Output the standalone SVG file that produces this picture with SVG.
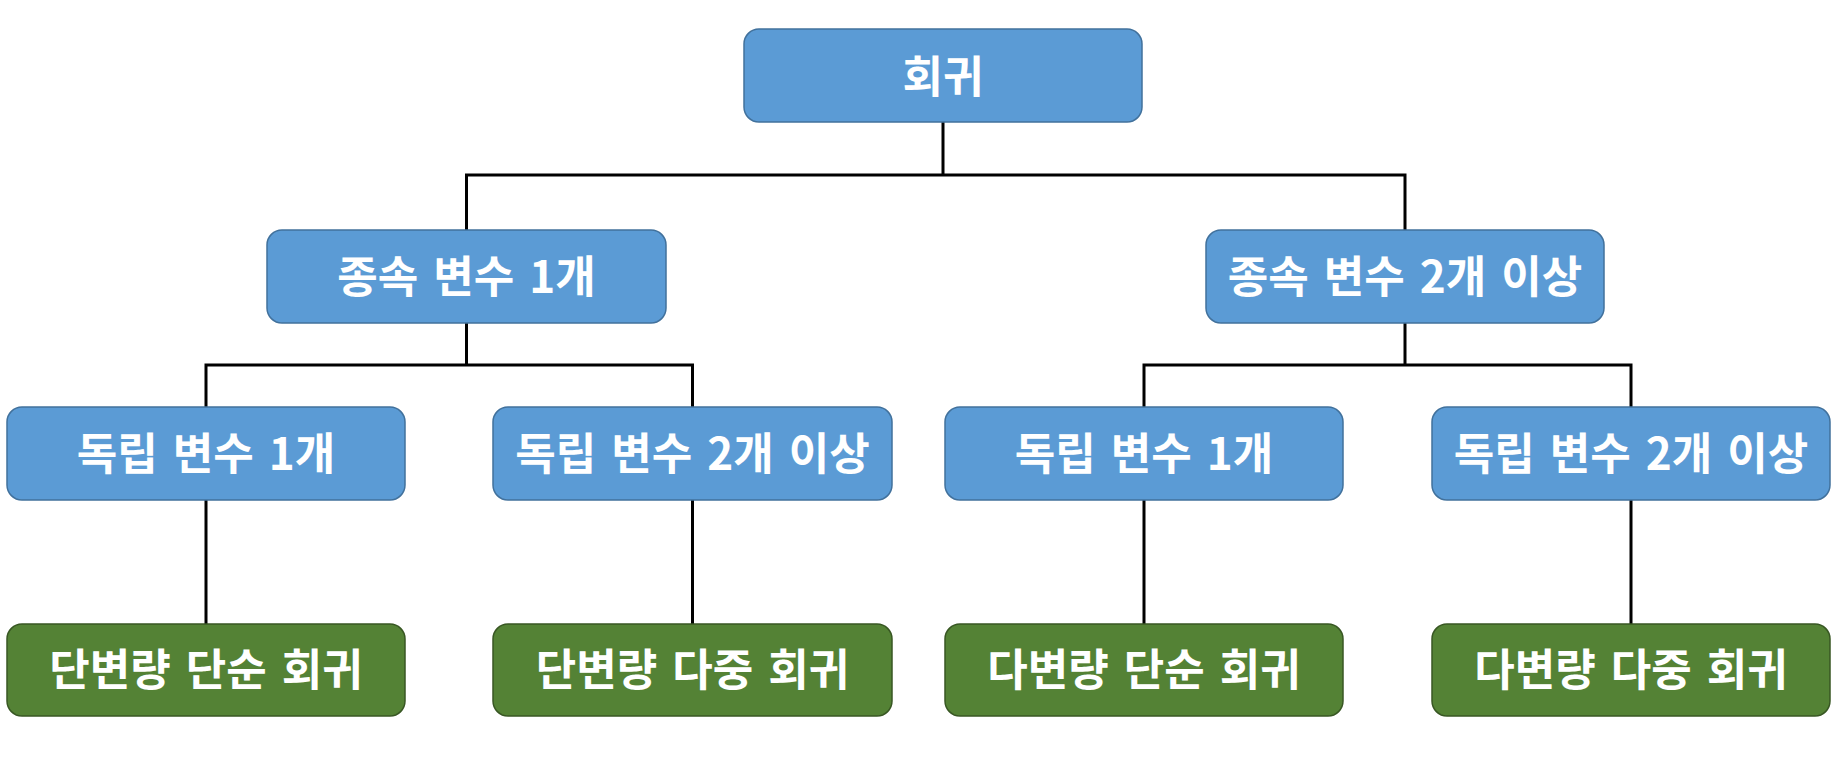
<svg xmlns="http://www.w3.org/2000/svg" width="1840" height="761" viewBox="0 0 1840 761">
<style>
.blue{fill:#5B9BD5;stroke:#41719C;stroke-width:1.5}
.green{fill:#548235;stroke:#385723;stroke-width:1.5}
.t{fill:#FFFFFF;font-family:"Noto Sans CJK KR","Noto Sans",sans-serif;font-weight:bold;font-size:44px;word-spacing:5px;text-anchor:middle}
.c{fill:none;stroke:#000000;stroke-width:3}
</style>
<rect width="1840" height="761" fill="#FFFFFF"/>
<g id="connectors">
<path class="c" d="M943 122V175M466.5 175H1405M466.5 173.5V230M1405 173.5V230"/>
<path class="c" d="M466.5 323V365M206 365H692.5M206 363.5V407M692.5 363.5V407"/>
<path class="c" d="M1405 323V365M1144 365H1631M1144 363.5V407M1631 363.5V407"/>
<path class="c" d="M206 500V624M692.5 500V624M1144 500V624M1631 500V624"/>
</g>
<g id="root"><rect class="blue" x="744" y="29" width="398" height="93" rx="15"/><text class="t" x="943" y="93">회귀</text></g>
<g id="dep1"><rect class="blue" x="267" y="230" width="399" height="93" rx="15"/><text class="t" x="466.5" y="293">종속 변수 1개</text></g>
<g id="dep2"><rect class="blue" x="1206" y="230" width="398" height="93" rx="15"/><text class="t" x="1405" y="293">종속 변수 2개 이상</text></g>
<g id="ind1a"><rect class="blue" x="7" y="407" width="398" height="93" rx="15"/><text class="t" x="206" y="470">독립 변수 1개</text></g>
<g id="ind2a"><rect class="blue" x="493" y="407" width="399" height="93" rx="15"/><text class="t" x="692.5" y="470">독립 변수 2개 이상</text></g>
<g id="ind1b"><rect class="blue" x="945" y="407" width="398" height="93" rx="15"/><text class="t" x="1144" y="470">독립 변수 1개</text></g>
<g id="ind2b"><rect class="blue" x="1432" y="407" width="398" height="93" rx="15"/><text class="t" x="1631" y="470">독립 변수 2개 이상</text></g>
<g id="res1"><rect class="green" x="7" y="624" width="398" height="92" rx="15"/><text class="t" x="206" y="686">단변량 단순 회귀</text></g>
<g id="res2"><rect class="green" x="493" y="624" width="399" height="92" rx="15"/><text class="t" x="692.5" y="686">단변량 다중 회귀</text></g>
<g id="res3"><rect class="green" x="945" y="624" width="398" height="92" rx="15"/><text class="t" x="1144" y="686">다변량 단순 회귀</text></g>
<g id="res4"><rect class="green" x="1432" y="624" width="398" height="92" rx="15"/><text class="t" x="1631" y="686">다변량 다중 회귀</text></g>
</svg>
